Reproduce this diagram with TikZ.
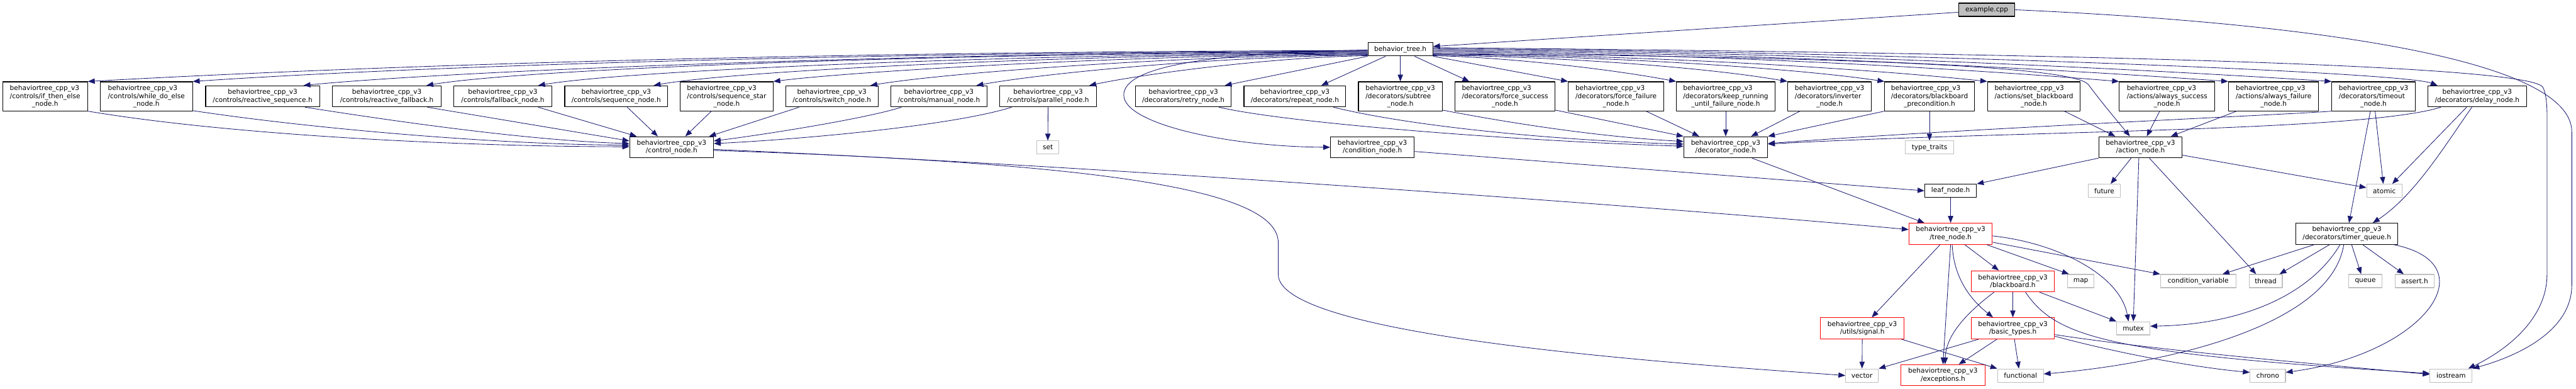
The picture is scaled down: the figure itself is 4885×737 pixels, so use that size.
\documentclass[tikz,border=0pt]{standalone}
\usepackage{fontspec}
\setmainfont{DejaVu Sans}
\usetikzlibrary{arrows.meta,calc}
\definecolor{edgeblue}{HTML}{191970}
\definecolor{sysgray}{HTML}{BFBFBF}
\newcommand{\btcpp}{behaviortree\_cpp\_v3}
\newcommand{\twol}[2]{\begin{tabular}[b]{@{}l@{}}#1\\#2\end{tabular}}
\tikzset{
  hdr/.style={draw=black, fill=white, line width=1.3pt, inner sep=0pt, align=center,
    minimum height=25pt, font=\fontsize{12.6}{15}\selectfont},
  redhdr/.style={hdr, draw=red},
  syshdr/.style={hdr, draw=sysgray},
  two/.style={minimum height=40pt},
  three/.style={minimum height=55pt},
  dep/.style={draw=edgeblue, line width=1pt, -{Triangle[length=13pt,width=10pt]}}
}
\begin{document}
\begin{tikzpicture}[x=1pt, y=-1pt, line join=round]
  \useasboundingbox (0,0) rectangle (4885,737);
  % the file and its header
  \node[hdr, fill=sysgray, minimum width=107pt] (ex) at (3767.5,18.5) {example.cpp};
  \node[hdr, minimum width=123pt] (bt) at (2655.5,93.5) {behavior\_tree.h};
  % controls
  \node[hdr, three, minimum width=161pt] (ite) at (85.5,182.5) {\twol{\btcpp}{/controls/if\_then\_else}\\\_node.h};
  \node[hdr, three, minimum width=175pt] (wde) at (277.5,182.5) {\twol{\btcpp}{/controls/while\_do\_else}\\\_node.h};
  \node[hdr, two, minimum width=216pt] (rseq) at (498,182.5) {\btcpp\\/controls/reactive\_sequence.h};
  \node[hdr, two, minimum width=207pt] (rfb) at (733.5,182.5) {\btcpp\\/controls/reactive\_fallback.h};
  \node[hdr, two, minimum width=185pt] (fb) at (953.5,182.5) {\btcpp\\/controls/fallback\_node.h};
  \node[hdr, two, minimum width=195pt] (seq) at (1168.5,182.5) {\btcpp\\/controls/sequence\_node.h};
  \node[hdr, three, minimum width=176pt] (seqs) at (1378,182.5) {\twol{\btcpp}{/controls/sequence\_star}\\\_node.h};
  \node[hdr, two, minimum width=175pt] (sw) at (1577.5,182.5) {\btcpp\\/controls/switch\_node.h};
  \node[hdr, two, minimum width=183pt] (man) at (1780.5,182.5) {\btcpp\\/controls/manual\_node.h};
  \node[hdr, two, minimum width=183pt] (par) at (1987.5,182.5) {\btcpp\\/controls/parallel\_node.h};
  % decorators and actions
  \node[hdr, two, minimum width=182pt] (retry) at (2244,182.5) {\btcpp\\/decorators/retry\_node.h};
  \node[hdr, two, minimum width=193pt] (rep) at (2455.5,182.5) {\btcpp\\/decorators/repeat\_node.h};
  \node[hdr, three, minimum width=159pt] (sub) at (2655.5,182.5) {\twol{\btcpp}{/decorators/subtree}\\\_node.h};
  \node[hdr, three, minimum width=190pt] (fsucc) at (2854,182.5) {\twol{\btcpp}{/decorators/force\_success}\\\_node.h};
  \node[hdr, three, minimum width=181pt] (ffail) at (3064.5,182.5) {\twol{\btcpp}{/decorators/force\_failure}\\\_node.h};
  \node[hdr, three, minimum width=187pt] (keep) at (3272.5,182.5) {\twol{\btcpp}{/decorators/keep\_running}\\\_until\_failure\_node.h};
  \node[hdr, three, minimum width=159pt] (inv) at (3469.5,182.5) {\twol{\btcpp}{/decorators/inverter}\\\_node.h};
  \node[hdr, three, minimum width=170pt] (bbpre) at (3659,182.5) {\twol{\btcpp}{/decorators/blackboard}\\\_precondition.h};
  \node[hdr, three, minimum width=176pt] (setbb) at (3857,182.5) {\twol{\btcpp}{/actions/set\_blackboard}\\\_node.h};
  \node[hdr, three, minimum width=181pt] (asucc) at (4109.5,182.5) {\twol{\btcpp}{/actions/always\_success}\\\_node.h};
  \node[hdr, three, minimum width=171pt] (afail) at (4311.5,182.5) {\twol{\btcpp}{/actions/always\_failure}\\\_node.h};
  \node[hdr, three, minimum width=158pt] (tout) at (4501,182.5) {\twol{\btcpp}{/decorators/timeout}\\\_node.h};
  \node[hdr, two, minimum width=187pt] (delay) at (4697.5,182.5) {\btcpp\\/decorators/delay\_node.h};
  % base nodes
  \node[hdr, two, minimum width=159pt] (ctrl) at (1273.5,279) {\btcpp\\/control\_node.h};
  \node[syshdr, minimum width=42pt] (set) at (1987,279.5) {set};
  \node[hdr, two, minimum width=159pt] (cond) at (2602.5,279) {\btcpp\\/condition\_node.h};
  \node[hdr, two, minimum width=159pt] (dec) at (3272.5,279) {\btcpp\\/decorator\_node.h};
  \node[syshdr, minimum width=92pt] (ttraits) at (3659,279.5) {type\_traits};
  \node[hdr, two, minimum width=158pt] (act) at (4059,279) {\btcpp\\/action\_node.h};
  \node[hdr, minimum width=98pt] (leaf) at (3699,361.5) {leaf\_node.h};
  \node[syshdr, minimum width=61pt] (future) at (3990.5,361.5) {future};
  \node[syshdr, minimum width=67pt] (atomic) at (4521.5,361.5) {atomic};
  % tree node and timer queue
  \node[redhdr, two, minimum width=158pt] (tree) at (3699,443) {\btcpp\\/tree\_node.h};
  \node[hdr, two, minimum width=193pt] (tq) at (4450.5,443) {\btcpp\\/decorators/timer\_queue.h};
  \node[redhdr, two, minimum width=158pt] (bb) at (3817,533) {\btcpp\\/blackboard.h};
  \node[syshdr, minimum width=50pt] (map) at (3946,532.5) {map};
  \node[syshdr, minimum width=143pt] (condvar) at (4168.5,532.5) {condition\_variable};
  \node[syshdr, minimum width=63pt] (thread) at (4296.5,532.5) {thread};
  \node[syshdr, minimum width=63pt] (queue) at (4485.5,532.5) {queue};
  \node[syshdr, minimum width=74pt] (assert) at (4579,532.5) {assert.h};
  \node[redhdr, two, minimum width=159pt] (sig) at (3531.5,622) {\btcpp\\/utils/signal.h};
  \node[redhdr, two, minimum width=158pt] (basic) at (3817,622) {\btcpp\\/basic\_types.h};
  \node[syshdr, minimum width=63pt] (mutex) at (4045.5,622) {mutex};
  \node[syshdr, minimum width=62pt] (vector) at (3531,711.5) {vector};
  \node[redhdr, two, minimum width=159pt] (exc) at (3684.5,711) {\btcpp\\/exceptions.h};
  \node[syshdr, minimum width=87pt] (func) at (3831.5,711.5) {functional};
  \node[syshdr, minimum width=67pt] (chrono) at (4300.5,711.5) {chrono};
  \node[syshdr, minimum width=80pt] (iostream) at (4648,711.5) {iostream};

  % example.cpp
  \draw[dep] (ex.185) -- (bt.5);
  \draw[dep] (ex.east) .. controls (4300,40) and (4877,100) .. (4877,250) -- (4877,540)
    .. controls (4877,620) and (4790,670) .. (iostream.north east);
  % behavior_tree.h, to the left
  \draw[dep] (bt.182) .. controls (1500,98) and (700,125) .. (ite.north east);
  \draw[dep] (bt.183) .. controls (1600,100) and (800,125) .. (wde.north east);
  \draw[dep] (bt.184) .. controls (1700,100) and (850,135) .. ($(rseq.north east)+(-31,0)$);
  \draw[dep] (bt.185) .. controls (1800,100) and (1000,130) .. ($(rfb.north east)+(-29,0)$);
  \draw[dep] (bt.186) .. controls (1950,102) and (1200,132) .. ($(fb.north east)+(-26,0)$);
  \draw[dep] (bt.187) .. controls (2050,103) and (1400,133) .. ($(seq.north east)+(-27,0)$);
  \draw[dep] (bt.188) .. controls (2150,104) and (1620,135) .. (seqs.north east);
  \draw[dep] (bt.189) .. controls (2250,105) and (1800,137) .. ($(sw.north east)+(-15,0)$);
  \draw[dep] (bt.190) .. controls (2330,106) and (1990,137) .. ($(man.north east)+(-21,0)$);
  \draw[dep] (bt.191) .. controls (2420,108) and (2180,138) .. ($(par.north east)+(-14,0)$);
  \draw[dep] (bt.181) .. controls (2300,100) and (2131,125) .. (2131,180)
    .. controls (2131,235) and (2330,278) .. (cond.west);
  \draw[dep] (bt.south west) -- ($(retry.north east)+(-13,0)$);
  \draw[dep] ($(bt.south)+(-28,0)$) -- ($(rep.north east)+(-47,0)$);
  \draw[dep] (bt.south) -- (sub.north);
  \draw[dep] ($(bt.south)+(27,0)$) -- ($(fsucc.north west)+(28,0)$);
  \draw[dep] (bt.south east) -- (ffail.north west);
  % behavior_tree.h, to the right
  \draw[dep] (bt.349) .. controls (2850,108) and (3050,130) .. (keep.north west);
  \draw[dep] (bt.350) .. controls (2990,108) and (3250,130) .. (inv.north west);
  \draw[dep] (bt.351) .. controls (3060,106) and (3410,130) .. (bbpre.north west);
  \draw[dep] (bt.352) .. controls (3140,104) and (3560,132) .. (setbb.north west);
  \draw[dep] (bt.353) .. controls (3500,108) and (3930,125) .. (3960,160)
    .. controls (3990,200) and (4020,235) .. ($(act.north)+(-20,0)$);
  \draw[dep] (bt.355) .. controls (3240,100) and (3760,133) .. (asucc.north west);
  \draw[dep] (bt.357) .. controls (3320,98) and (3930,133) .. (afail.north west);
  \draw[dep] (bt.359) .. controls (3400,96) and (4090,133) .. (tout.north west);
  \draw[dep] (bt.1) .. controls (3480,95) and (4550,135) .. ($(delay.north west)+(19,0)$);
  \draw[dep] (bt.3) .. controls (3800,100) and (4790,120) .. (4822,165)
    .. controls (4832,185) and (4830,220) .. (4830,260) -- (4830,520)
    .. controls (4830,600) and (4760,660) .. ($(iostream.north east)+(-8,0)$);
  % controls into control_node.h
  \draw[dep] (ite.south east) .. controls (450,258) and (900,278) .. ($(ctrl.west)+(0,-1)$);
  \draw[dep] ($(wde.south east)+(0,-1)$) .. controls (600,245) and (950,274) .. ($(ctrl.west)+(0,-4)$);
  \draw[dep] ($(rseq.south east)+(-28,0)$) .. controls (750,230) and (1000,266) .. ($(ctrl.west)+(0,-7)$);
  \draw[dep] ($(rfb.south east)+(-27,0)$) -- ($(ctrl.west)+(0,-12)$);
  \draw[dep] ($(fb.south east)+(-26,0)$) -- ($(ctrl.north west)+(14,0)$);
  \draw[dep] ($(seq.south)+(21,0)$) -- ($(ctrl.north)+(-26,0)$);
  \draw[dep] ($(seqs.south)+(-29,0)$) -- ($(ctrl.north)+(26,0)$);
  \draw[dep] ($(sw.south west)+(26,0)$) -- ($(ctrl.north east)+(-9,0)$);
  \draw[dep] ($(man.south west)+(21,0)$) .. controls (1640,225) and (1450,255) .. ($(ctrl.east)+(0,-12)$);
  \draw[dep] ($(par.south west)+(23,0)$) .. controls (1800,240) and (1500,265) .. ($(ctrl.east)+(0,-7)$);
  \draw[dep] (par.south) -- (set.north);
  % decorators into decorator_node.h
  \draw[dep] ($(retry.south east)+(-24,0)$) .. controls (2450,235) and (2900,268) .. ($(dec.west)+(0,-2)$);
  \draw[dep] ($(rep.south east)+(-24,0)$) .. controls (2700,245) and (3000,268) .. ($(dec.west)+(0,-6)$);
  \draw[dep] ($(sub.south east)+(0,-2)$) .. controls (2900,240) and (3050,260) .. ($(dec.west)+(0,-11)$);
  \draw[dep] ($(fsucc.south east)+(0,-2)$) -- (dec.north west);
  \draw[dep] ($(ffail.south)+(57,0)$) -- ($(dec.north west)+(30,0)$);
  \draw[dep] (keep.south) -- (dec.north);
  \draw[dep] ($(inv.south west)+(24,0)$) -- ($(dec.north east)+(-32,0)$);
  \draw[dep] (bbpre.south west) -- (dec.north east);
  \draw[dep] (bbpre.south) -- (ttraits.north);
  \draw[dep] (tout.south west) .. controls (4380,215) and (3700,245) .. ($(dec.east)+(0,-7)$);
  \draw[dep] ($(delay.south west)+(25,0)$) .. controls (4480,250) and (3800,248) .. ($(dec.east)+(0,-6)$);
  % actions into action_node.h
  \draw[dep] ($(setbb.south east)+(-31,0)$) -- ($(act.north west)+(32,0)$);
  \draw[dep] ($(asucc.south)+(-14,0)$) -- ($(act.north)+(12,0)$);
  \draw[dep] ($(afail.south west)+(16,0)$) -- ($(act.north east)+(-22,0)$);
  \draw[dep] (act.south west) -- (leaf.north east);
  \draw[dep] ($(act.south west)+(62,0)$) -- ($(future.north)+(12,0)$);
  \draw[dep] ($(act.south)+(-3,0)$) -- (mutex.north);
  \draw[dep] ($(act.south)+(17,0)$) -- ($(thread.north west)+(14,0)$);
  \draw[dep] ($(act.east)+(0,15)$) -- ($(atomic.west)+(0,-6)$);
  % timeout and delay
  \draw[dep] ($(tout.south)+(3,0)$) -- ($(atomic.north)+(-2,0)$);
  \draw[dep] ($(tout.south)+(-6,0)$) -- ($(tq.north)+(4,0)$);
  \draw[dep] ($(delay.south)+(-20,0)$) -- ($(atomic.north)+(15,0)$);
  \draw[dep] ($(delay.south)+(-10,0)$) .. controls (4640,270) and (4580,370) .. ($(tq.north east)+(-48,0)$);
  % down to tree_node.h
  \draw[dep] ($(cond.east)+(0,8)$) -- (leaf.west);
  \draw[dep] ($(dec.south)+(50,0)$) -- ($(tree.north west)+(30,0)$);
  \draw[dep] (leaf.south) -- (tree.north);
  \draw[dep] ($(ctrl.east)+(0,4)$) .. controls (2200,320) and (3300,405) .. ($(tree.west)+(0,-8)$);
  \draw[dep] ($(ctrl.east)+(0,6)$) .. controls (2100,310) and (2424,360) .. (2424,460) -- (2424,520)
    .. controls (2424,640) and (3200,690) .. (vector.west);
  % tree_node.h
  \draw[dep] ($(tree.south)+(-20,0)$) -- ($(sig.north)+(18,0)$);
  \draw[dep] (tree.south) -- (exc.north);
  \draw[dep] ($(tree.south)+(3,0)$) .. controls (3705,530) and (3740,570) .. ($(basic.north west)+(42,0)$);
  \draw[dep] ($(tree.south)+(27,0)$) -- ($(bb.north west)+(53,0)$);
  \draw[dep] ($(tree.south east)+(-11,0)$) -- ($(map.north west)+(3,0)$);
  \draw[dep] ($(tree.east)+(0,16)$) -- (condvar.north west);
  \draw[dep] ($(tree.east)+(0,4)$) .. controls (3900,460) and (4020,520) .. ($(mutex.north west)+(23,0)$);
  % blackboard.h
  \draw[dep] ($(bb.south west)+(44,0)$) .. controls (3720,600) and (3690,640) .. ($(exc.north)+(4,0)$);
  \draw[dep] (bb.south) -- (basic.north);
  \draw[dep] ($(bb.south east)+(-29,0)$) -- (mutex.north west);
  \draw[dep] ($(bb.south)+(24,0)$) .. controls (3900,640) and (4000,670) .. ($(iostream.west)+(0,-4)$);
  % basic_types.h and signal.h
  \draw[dep] ($(basic.south west)+(15,0)$) -- (vector.north east);
  \draw[dep] ($(basic.south)+(-30,0)$) -- ($(exc.north)+(30,0)$);
  \draw[dep] ($(basic.south)+(3,0)$) -- ($(func.north)+(-3,0)$);
  \draw[dep] ($(basic.east)+(0,12)$) .. controls (4100,665) and (4400,690) .. ($(iostream.west)+(0,-2)$);
  \draw[dep] ($(basic.east)+(0,15)$) .. controls (4000,665) and (4150,695) .. ($(chrono.west)+(0,-6)$);
  \draw[dep] (sig.south) -- (vector.north);
  \draw[dep] ($(sig.south east)+(-6,0)$) -- (func.north west);
  % timer_queue.h
  \draw[dep] ($(tq.south west)+(35,0)$) -- ($(condvar.north east)+(-26,0)$);
  \draw[dep] ($(tq.south)+(-33,0)$) -- ($(thread.north east)+(-6,0)$);
  \draw[dep] ($(tq.south)+(-13,0)$) .. controls (4380,560) and (4250,615) .. ($(mutex.east)+(0,-4)$);
  \draw[dep] ($(tq.south)+(-6,0)$) .. controls (4420,620) and (4100,690) .. ($(func.east)+(0,-3)$);
  \draw[dep] ($(tq.south)+(9,0)$) -- ($(queue.north)+(-8,0)$);
  \draw[dep] ($(tq.south)+(30,0)$) -- ($(assert.north west)+(17,0)$);
  \draw[dep] ($(tq.south east)+(-8,0)$) .. controls (4720,500) and (4600,670) .. ($(chrono.east)+(0,-6)$);
\end{tikzpicture}
\end{document}
